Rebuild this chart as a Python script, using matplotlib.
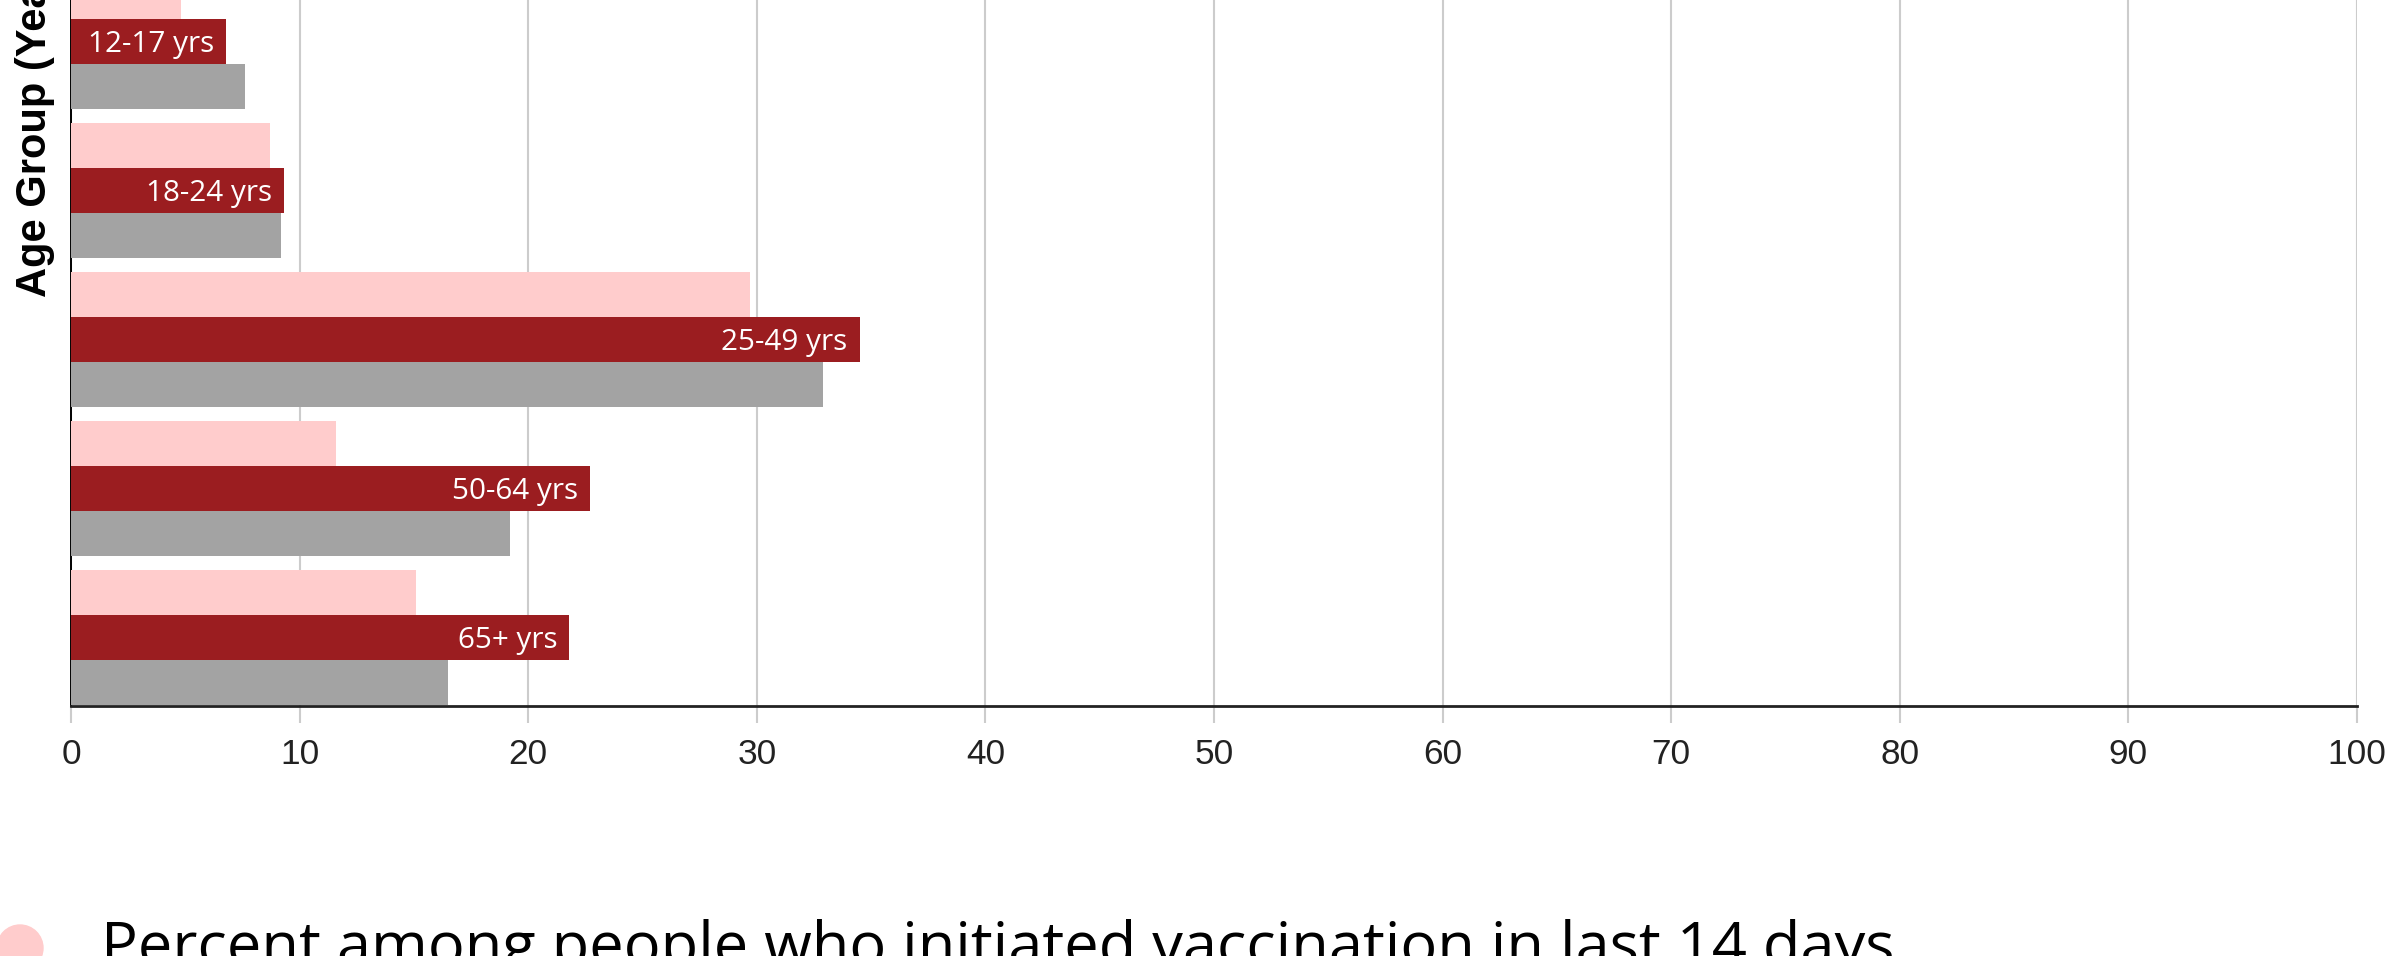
import matplotlib
matplotlib.use('Agg')
from matplotlib import pyplot as plt
from matplotlib.patches import Circle

age_groups = ['12-17 yrs', '18-24 yrs', '25-49 yrs', '50-64 yrs', '65+ yrs']
pct_initiated = [4.8, 8.7, 29.7, 11.6, 15.1]
pct_red = [6.8, 9.3, 34.5, 22.7, 21.8]
pct_gray = [7.6, 9.2, 32.9, 19.2, 16.5]
x_ticks = [0, 10, 20, 30, 40, 50, 60, 70, 80, 90, 100]

legend_label = 'Percent among people who initiated vaccination in last 14 days'
y_label = 'Age Group (Years)'

colors = {'pink': '#FFCCCC', 'red': '#9B1D20', 'gray': '#A3A3A3'}

W, H, DPI = 2395, 956, 100
fig = plt.figure(figsize=(W / DPI, H / DPI), dpi=DPI)

# axes top runs off the figure, like the cropped original
left, right, bottom, top = 71, 2357, 706, -478
ax = fig.add_axes([left / W, (H - bottom) / H, (right - left) / W, (bottom - top) / H])

n = len(age_groups)
pos = [n - 1 - i for i in range(n)]  # first group on top
bh = 0.3

ax.barh([p + bh for p in pos], pct_initiated, height=bh, color=colors['pink'], zorder=1)
ax.barh(pos, pct_red, height=bh, color=colors['red'], zorder=1)
ax.barh([p - bh for p in pos], pct_gray, height=bh, color=colors['gray'], zorder=1)

for p, v, lab in zip(pos, pct_red, age_groups):
    ax.annotate(lab, (v, p), xytext=(-8.6, -2.0), textcoords='offset points',
                ha='right', va='center', color='white', fontsize=21.3,
                family='Open Sans')

ax.set_xlim(0, 100)
ax.set_ylim(-0.46, -0.46 + (bottom - top) / 149)

ax.set_xticks(x_ticks)
ax.set_xticklabels([str(t) for t in x_ticks], family='Liberation Sans')
ax.tick_params(axis='x', length=12.2, width=1.5, color='#cccccc', pad=10.5,
               labelsize=25.4, labelcolor='#222222')
ax.set_yticks([])
ax.xaxis.grid(True, color='#cccccc', lw=1.5)
ax.set_axisbelow(True)

for s in ('top', 'right'):
    ax.spines[s].set_visible(False)
ax.spines['bottom'].set_color('#222222')
ax.spines['bottom'].set_linewidth(2.0)
ax.spines['left'].set_color('black')
ax.spines['left'].set_linewidth(1.4)
ax.spines['left'].set_zorder(0.8)

ax.set_ylabel(y_label, family='Liberation Sans', fontweight='bold', fontsize=30)
ax.yaxis.set_label_coords(-16 / (right - left), 0.5)

# legend entry, cut at the bottom edge
fig.add_artist(Circle((0.20, (H - 948) / DPI), 0.23, color=colors['pink'],
                      transform=fig.dpi_scale_trans))
fig.text(101 / W, -9 / H, legend_label, family='Open Sans', fontsize=44.2,
         color='black', va='baseline', ha='left')

fig.savefig('out.png', dpi=DPI)
